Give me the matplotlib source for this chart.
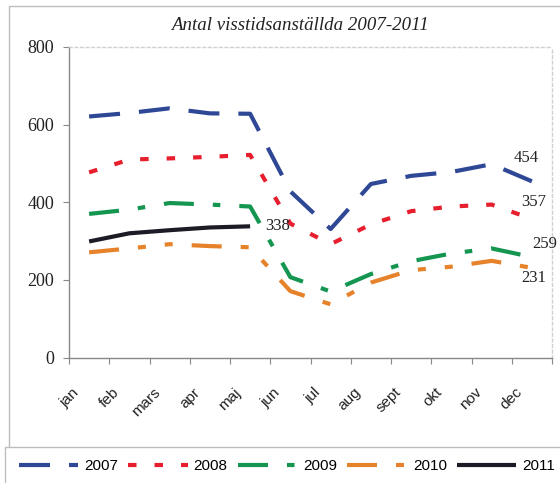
import matplotlib
matplotlib.use("Agg")
import matplotlib.pyplot as plt
import matplotlib.transforms as mtransforms
from matplotlib.patches import Rectangle

# data
months = ["jan", "feb", "mars", "apr", "maj", "jun", "jul", "aug", "sept", "okt", "nov", "dec"]
v2007 = [621, 630, 642, 629, 628, 428, 331, 447, 468, 478, 498, 454]
v2008 = [477, 510, 513, 517, 522, 345, 292, 343, 377, 389, 394, 357]
v2009 = [370, 381, 398, 394, 389, 207, 170, 215, 248, 268, 281, 259]
v2010 = [271, 281, 292, 287, 284, 171, 137, 193, 225, 234, 249, 231]
v2011 = [299, 320, 328, 335, 338]

SERIF = "Liberation Serif"
SANS = "Liberation Sans"

fig = plt.figure(figsize=(5.6, 4.83), dpi=100)
W, H = 560, 483

def px(x0, y0, x1, y1):
    # pixel box (top-left origin) -> figure fraction rect
    return [x0 / W, 1 - y1 / H, (x1 - x0) / W, (y1 - y0) / H]

ax = fig.add_axes(px(69, 47, 552, 357.5))

lw = 3.0
u = lw * 100 / 72  # pixels per linewidth unit

def d(*pix):
    return [p / u for p in pix]

x = list(range(len(months)))
ax.plot(x, v2007, color="#2E4896", lw=lw, dashes=d(31, 19), dash_capstyle="butt", label="2007")
ax.plot(x, v2008, color="#E61E2D", lw=lw, dashes=d(8.5, 18), dash_capstyle="butt", label="2008")
ax.plot(x, v2009, color="#149650", lw=lw, dashes=d(30, 19, 7.5, 19), dash_capstyle="butt", label="2009")
ax.plot(x, v2010, color="#E6822A", lw=lw, dashes=d(30, 19, 8, 19, 8, 19), dash_capstyle="butt", label="2010")
ax.plot(range(len(v2011)), v2011, color="#1C1C26", lw=lw, solid_capstyle="butt", label="2011")

# data labels
lab = dict(fontsize=12, family=SERIF, color="#222222", ha="center", va="center",
           textcoords="offset points")
ax.annotate(str(v2007[-1]), (11, v2007[-1]), xytext=(-4, 16.5), **lab)
ax.annotate(str(v2008[-1]), (11, v2008[-1]), xytext=(1.5, 12), **lab)
ax.annotate(str(v2009[-1]), (11, v2009[-1]), xytext=(9.5, 9.5), **lab)
ax.annotate(str(v2010[-1]), (11, v2010[-1]), xytext=(1, -7.5), **lab)
ax.annotate(str(v2011[-1]), (4, v2011[-1]), xytext=(19.5, 0.5), **lab)

ax.set_xlim(-0.5, 11.5)
ax.set_ylim(0, 800)
ax.set_yticks([0, 200, 400, 600, 800])
ax.set_xticks(x)
ax.set_xticks([i - 0.5 for i in range(13)], minor=True)
ax.set_xticklabels(months, rotation=45, ha="right", fontsize=11, family=SANS, color="#222222")
ax.tick_params(axis="x", which="major", length=0, pad=20)
ax.tick_params(axis="x", which="minor", length=4, width=0.8, color="#888888", direction="out")
ax.tick_params(axis="y", length=4.5, width=0.8, color="#888888", direction="out", pad=6,
               labelsize=13, labelcolor="#222222")
for t in ax.get_yticklabels():
    t.set_family(SERIF)
off = mtransforms.ScaledTranslation(-7 / 100, 0, fig.dpi_scale_trans)
for t in ax.get_xticklabels():
    t.set_transform(t.get_transform() + off)

for s in ["left", "bottom"]:
    ax.spines[s].set_color("#888888")
    ax.spines[s].set_linewidth(1.0)
for s in ["top", "right"]:
    ax.spines[s].set_color("#D0D0D0")
    ax.spines[s].set_linewidth(1.0)
    ax.spines[s].set_linestyle((0, (2, 2)))

fig.text(300 / W, 1 - 25 / H, "Antal visstidsanställda 2007-2011", ha="center", va="center",
         fontsize=13.6, family=SERIF, style="italic", color="#222222")

# chart area and legend frames
fig.patches.append(Rectangle((9 / W, 0), 1, 1 - 6 / H, transform=fig.transFigure,
                             fill=False, ec="#BDBDBD", lw=1.0))
fig.patches.append(Rectangle((5 / W, -0.1), 1, 0.1 + 1 - 447 / H, transform=fig.transFigure,
                             fill=True, fc="white", ec="#BDBDBD", lw=1.0))

fig.legend(loc="center", bbox_to_anchor=(287 / W, 1 - 466 / H), ncol=5, frameon=False,
           prop={"family": SANS, "size": 11}, handlelength=3.9, handletextpad=0.4,
           columnspacing=0.65, borderaxespad=0, borderpad=0)

fig.savefig("out.png", dpi=100)
